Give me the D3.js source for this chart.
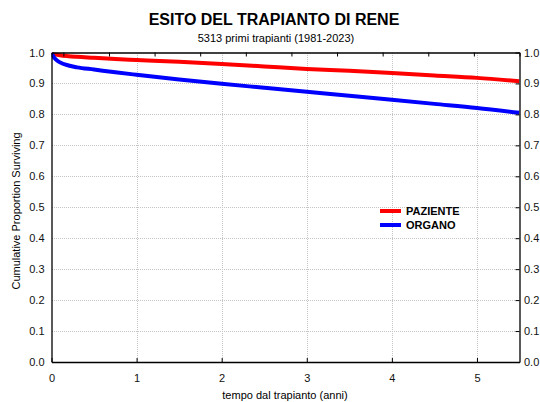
<!DOCTYPE html>
<html>
<head>
<meta charset="utf-8">
<script src="https://cdn.jsdelivr.net/npm/d3@7/dist/d3.min.js"></script>
<style>
  html, body { margin: 0; padding: 0; background: #fff; }
  svg { display: block; font-family: "Liberation Sans", Arial, sans-serif; }
</style>
</head>
<body>
<svg id="chart" width="540" height="402"></svg>
<script>
// Kaplan-Meier survival estimates (years after transplant)
const times    = [0, 0.02, 0.05, 0.1, 0.2, 0.3, 0.5, 0.75, 1, 1.5, 2, 2.5, 3, 3.5, 4, 4.5, 5, 5.5];
const paziente = [1.0, 0.997, 0.994, 0.991, 0.988, 0.986, 0.983, 0.979, 0.976, 0.970, 0.963, 0.955, 0.947, 0.941, 0.934, 0.926, 0.918, 0.907];
const organo   = [1.0, 0.988, 0.978, 0.968, 0.958, 0.952, 0.945, 0.936, 0.928, 0.913, 0.899, 0.886, 0.873, 0.860, 0.847, 0.834, 0.821, 0.805];

const seriesNames  = ["PAZIENTE", "ORGANO"];
const seriesColors = ["#ff0000", "#0000ff"];
const xTicks = [0, 1, 2, 3, 4, 5];
const yTicks = [0, 0.1, 0.2, 0.3, 0.4, 0.5, 0.6, 0.7, 0.8, 0.9, 1.0];

const title    = "ESITO DEL TRAPIANTO DI RENE";
const subtitle = "5313 primi trapianti (1981-2023)";
const xLabel   = "tempo dal trapianto (anni)";
const yLabel   = "Cumulative Proportion Surviving";

const svg = d3.select("#chart");
const m = { left: 51.5, right: 519.5, top: 52.5, bottom: 362 };

const x = d3.scaleLinear().domain([0, 5.5]).range([m.left, m.right]);
const y = d3.scaleLinear().domain([0, 1]).range([m.bottom, m.top]);
// secondary top scale: minor ticks laid out from the right edge
const xTop = d3.scaleLinear().domain([0, 10.26]).range([m.right, m.left]);

// titles
svg.append("text").attr("x", 274).attr("y", 25)
  .attr("text-anchor", "middle").attr("font-size", 16).attr("font-weight", "bold")
  .text(title);
svg.append("text").attr("x", 276).attr("y", 42)
  .attr("text-anchor", "middle").attr("font-size", 11)
  .text(subtitle);

// grid
const grid = svg.append("g").attr("stroke", "#c4c4c4").attr("stroke-width", 1)
  .attr("stroke-dasharray", "1,1").attr("shape-rendering", "crispEdges");
grid.selectAll("line.gx").data(xTicks.filter(d => d > 0)).join("line")
  .attr("x1", d => Math.round(x(d)) + 0.5).attr("x2", d => Math.round(x(d)) + 0.5)
  .attr("y1", m.top).attr("y2", m.bottom);
grid.selectAll("line.gy").data(yTicks.filter(d => d > 0 && d < 1)).join("line")
  .attr("y1", d => Math.round(y(d)) + 0.5).attr("y2", d => Math.round(y(d)) + 0.5)
  .attr("x1", m.left).attr("x2", m.right);

// survival curves
svg.append("clipPath").attr("id", "plotclip").append("rect")
  .attr("x", m.left).attr("y", m.top).attr("width", m.right - m.left).attr("height", m.bottom - m.top);

const line = d3.line().x(d => x(d[0])).y(d => y(d[1])).curve(d3.curveMonotoneX);
[paziente, organo].forEach((vals, i) => {
  svg.append("path")
    .datum(times.map((t, j) => [t, vals[j]]))
    .attr("clip-path", "url(#plotclip)")
    .attr("fill", "none").attr("stroke", seriesColors[i]).attr("stroke-width", 4)
    .attr("d", line);
});

// axes
const axFont = g => g.selectAll("text").attr("font-size", 11).attr("fill", "#111")
  .attr("font-family", "'Liberation Sans', Arial, sans-serif");

const axB = svg.append("g").attr("transform", `translate(0,${m.bottom})`)
  .call(d3.axisBottom(x).tickValues(xTicks).tickFormat(d3.format("d")).tickSizeInner(-4).tickSizeOuter(0).tickPadding(12));
axB.call(axFont);

const axT = svg.append("g").attr("transform", `translate(0,${m.top})`)
  .call(d3.axisTop(xTop).tickValues(d3.range(0, 11)).tickFormat("").tickSizeInner(-4).tickSizeOuter(0));

const axL = svg.append("g").attr("transform", `translate(${m.left},0)`)
  .call(d3.axisLeft(y).tickValues(yTicks).tickFormat(d3.format(".1f")).tickSizeInner(0).tickSizeOuter(0).tickPadding(7));
axL.call(axFont);

const axR = svg.append("g").attr("transform", `translate(${m.right},0)`)
  .call(d3.axisRight(y).tickValues(yTicks).tickFormat(d3.format(".1f")).tickSizeInner(-4).tickSizeOuter(0).tickPadding(4.5));
axR.call(axFont);

[axB, axT, axL, axR].forEach(g => {
  g.select(".domain").attr("stroke", "#000").attr("stroke-width", 1.3);
  g.selectAll(".tick line").attr("stroke", "#000");
});

// axis titles
svg.append("text").attr("x", 285).attr("y", 399)
  .attr("text-anchor", "middle").attr("font-size", 11).text(xLabel);
svg.append("text")
  .attr("transform", "translate(20,211) rotate(-90)")
  .attr("text-anchor", "middle").attr("font-size", 11).text(yLabel);

// legend
const legend = svg.append("g");
seriesNames.forEach((name, i) => {
  const ly = 211 + i * 14;
  legend.append("line").attr("x1", 380).attr("x2", 401).attr("y1", ly).attr("y2", ly)
    .attr("stroke", seriesColors[i]).attr("stroke-width", 4);
  legend.append("text").attr("x", 406).attr("y", ly + 4)
    .attr("font-size", 11).attr("font-weight", "bold").text(name);
});
</script>
</body>
</html>
